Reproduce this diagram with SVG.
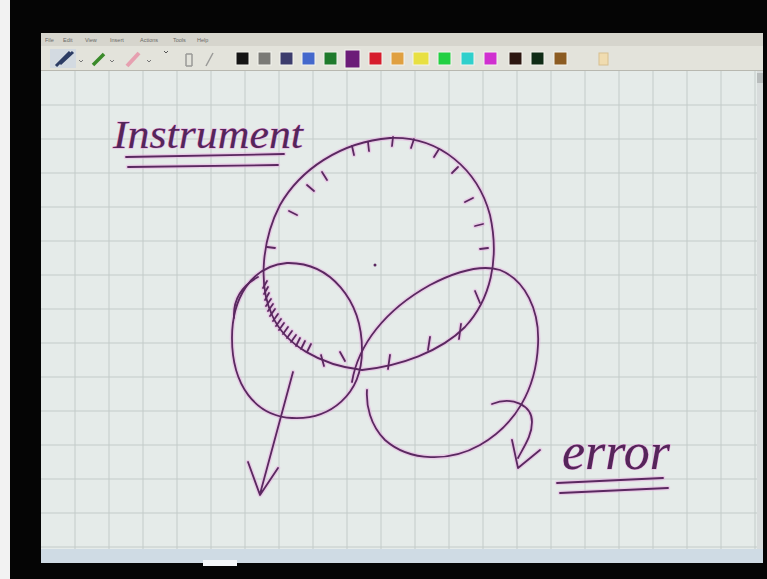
<svg xmlns="http://www.w3.org/2000/svg" xmlns:xlink="http://www.w3.org/1999/xlink" width="767" height="579" viewBox="0 0 767 579">
<style>
.menu{font-family:"Liberation Sans",Arial,sans-serif;font-size:5.5px;fill:#6a6a66}
.grid line{stroke:#c3cbc9;stroke-width:1}
.sw{stroke:#f4f4ee;stroke-width:1}
.hand{font-family:"Liberation Serif","Times New Roman",serif;font-style:italic;fill:#55255a;stroke:#eaa8e0;stroke-width:1;paint-order:stroke}
</style>
<defs>
<g id="strokes" fill="none" stroke-linecap="round" stroke-linejoin="round">
<path d="M362 370 C320 365 285 345 272 315 C258 285 262 240 280 205 C300 170 340 142 390 138 C440 136 478 170 490 215 C500 260 490 300 465 327 C440 352 400 366 362 370"/>
<path d="M352 146 L354 155 M368 142 L369 151 M393 137 L392 146 M414 139 L411 148 M439 149 L434 157 M458 167 L452 173 M473 198 L465 202 M483 224 L475 226 M488 248 L480 249 M322 172 L327 180 M307 185 L314 191 M289 211 L297 215 M267 247 L275 248"/>
<path d="M475 291 L480 303 M461 324 L459 339 M430 337 L428 350 M390 355 L388 369 M321 355 L324 366 M340 352 L345 361"/>
<path d="M267 281 L263 288 M268 287 L264 294 M269 293 L265 300 M271 299 L266 306 M273 304 L268 311 M275 309 L270 316 M278 314 L273 321 M281 319 L276 326 M284 323 L279 330 M288 327 L283 334 M292 331 L287 338 M296 335 L291 342 M300 338 L296 346 M305 341 L301 349 M311 344 L307 352"/>
<path d="M287 263 C330 262 362 300 362 350 C362 395 330 420 292 418 C255 416 232 385 232 338 C232 300 250 266 287 263"/>
<path d="M234 318 C233 300 242 286 258 277"/>
<path d="M293 372 L260 494 M248 462 L260 495 L278 468"/>
<path d="M352 382 C358 345 385 310 430 285 C455 272 480 264 500 270 C525 280 540 310 538 345 C536 390 515 425 480 445 C450 462 410 462 385 440 C370 425 366 405 367 390"/>
<path d="M492 404 C512 396 532 405 532 422 C532 435 525 445 518 458 M512 440 L518 468 L540 450"/>
<path d="M126 157 L284 154 M128 167 L278 165"/>
<path d="M557 483 L663 478 M560 493 L668 488"/>
</g>
</defs>
<rect width="767" height="579" fill="#050505"/>
<rect x="0" y="0" width="10" height="579" fill="#f2f2f2"/>
<g id="menubar">
<rect x="41" y="33" width="722" height="13" fill="#d6d5cd"/>
<text class="menu" x="45" y="42">File</text>
<text class="menu" x="63" y="42">Edit</text>
<text class="menu" x="85" y="42">View</text>
<text class="menu" x="110" y="42">Insert</text>
<text class="menu" x="140" y="42">Actions</text>
<text class="menu" x="173" y="42">Tools</text>
<text class="menu" x="197" y="42">Help</text>
</g>
<g id="toolbar">
<rect x="41" y="46" width="722" height="25" fill="#e3e3db"/>
<line x1="41" y1="70.5" x2="763" y2="70.5" stroke="#b8b8b0"/>
<rect x="50" y="49" width="26" height="19" fill="#c8d4e4" opacity=".6"/>
<path d="M56 66 L70 52 M60 64 L73 52" stroke="#2c3c64" stroke-width="3" fill="none"/>
<path d="M79 60 l2 2 l2 -2" stroke="#777" fill="none"/>
<path d="M93 65 L104 54" stroke="#3a8a2a" stroke-width="3.5" fill="none"/>
<path d="M110 60 l2 2 l2 -2" stroke="#777" fill="none"/>
<path d="M127 66 L139 53" stroke="#e6a0b0" stroke-width="4" fill="none"/>
<path d="M147 60 l2 2 l2 -2" stroke="#777" fill="none"/>
<path d="M164 51 l2 2 l2 -2" stroke="#555" fill="none"/>
<path d="M186 54 L186 66 M192 54 L192 66 M186 54 L192 54 M186 66 L192 66" stroke="#9a9a98" stroke-width="1.5" fill="none"/>
<path d="M206 66 L213 53" stroke="#9a9a98" stroke-width="1.5"/>
<rect class="sw" x="236" y="52" width="13" height="13" fill="#151515"/>
<rect class="sw" x="258" y="52" width="13" height="13" fill="#7a7a76"/>
<rect class="sw" x="280" y="52" width="13" height="13" fill="#3c3c6c"/>
<rect class="sw" x="302" y="52" width="13" height="13" fill="#4468cc"/>
<rect class="sw" x="324" y="52" width="13" height="13" fill="#1f7a2c"/>
<rect class="sw" x="345" y="50" width="15" height="18" fill="#6c1c78"/>
<rect class="sw" x="369" y="52" width="13" height="13" fill="#d61c2c"/>
<rect class="sw" x="391" y="52" width="13" height="13" fill="#e0a040"/>
<rect class="sw" x="413" y="52" width="16" height="13" fill="#e8e042"/>
<rect class="sw" x="438" y="52" width="13" height="13" fill="#22d042"/>
<rect class="sw" x="461" y="52" width="13" height="13" fill="#30d0cc"/>
<rect class="sw" x="484" y="52" width="13" height="13" fill="#d030d0"/>
<rect class="sw" x="509" y="52" width="13" height="13" fill="#2c1610"/>
<rect class="sw" x="531" y="52" width="13" height="13" fill="#102c16"/>
<rect class="sw" x="554" y="52" width="13" height="13" fill="#8c5c22"/>
<rect x="599" y="53" width="9" height="12" fill="#f0dcb0" stroke="#d8c090"/>
</g>
<g id="canvas">
<rect x="41" y="71" width="716" height="478" fill="#e5ebe9"/>
<g class="grid">
<line x1="75" y1="71" x2="75" y2="549"/><line x1="109" y1="71" x2="109" y2="549"/><line x1="143" y1="71" x2="143" y2="549"/><line x1="177" y1="71" x2="177" y2="549"/><line x1="211" y1="71" x2="211" y2="549"/><line x1="245" y1="71" x2="245" y2="549"/><line x1="279" y1="71" x2="279" y2="549"/><line x1="313" y1="71" x2="313" y2="549"/><line x1="347" y1="71" x2="347" y2="549"/><line x1="381" y1="71" x2="381" y2="549"/><line x1="415" y1="71" x2="415" y2="549"/><line x1="449" y1="71" x2="449" y2="549"/><line x1="483" y1="71" x2="483" y2="549"/><line x1="517" y1="71" x2="517" y2="549"/><line x1="551" y1="71" x2="551" y2="549"/><line x1="585" y1="71" x2="585" y2="549"/><line x1="619" y1="71" x2="619" y2="549"/><line x1="653" y1="71" x2="653" y2="549"/><line x1="687" y1="71" x2="687" y2="549"/><line x1="721" y1="71" x2="721" y2="549"/><line x1="755" y1="71" x2="755" y2="549"/>
<line x1="41" y1="105" x2="757" y2="105"/><line x1="41" y1="139" x2="757" y2="139"/><line x1="41" y1="173" x2="757" y2="173"/><line x1="41" y1="207" x2="757" y2="207"/><line x1="41" y1="241" x2="757" y2="241"/><line x1="41" y1="275" x2="757" y2="275"/><line x1="41" y1="309" x2="757" y2="309"/><line x1="41" y1="343" x2="757" y2="343"/><line x1="41" y1="377" x2="757" y2="377"/><line x1="41" y1="411" x2="757" y2="411"/><line x1="41" y1="445" x2="757" y2="445"/><line x1="41" y1="479" x2="757" y2="479"/><line x1="41" y1="513" x2="757" y2="513"/><line x1="41" y1="547" x2="757" y2="547"/>
</g>
<rect x="757" y="71" width="6" height="478" fill="#d8dcdc"/>
<rect x="757" y="73" width="6" height="10" fill="#b8bcbc"/>
<rect x="41" y="549" width="722" height="14" fill="#cfdbe4"/>
<rect x="203" y="560" width="34" height="6" fill="#f4f6f8"/>
</g>
<g id="drawing">
<use xlink:href="#strokes" stroke="#eaa6e2" stroke-width="4.5" opacity=".45"/>
<use xlink:href="#strokes" stroke="#5a2860" stroke-width="1.8"/>
<circle cx="375" cy="265" r="1.5" fill="#5a2860"/>
</g>
<g id="label-instrument">
<text class="hand" x="113" y="148" font-size="40" textLength="190" lengthAdjust="spacingAndGlyphs">Instrument</text>
</g>
<g id="label-error">
<text class="hand" x="562" y="469" font-size="52" textLength="108" lengthAdjust="spacingAndGlyphs">error</text>
</g>
</svg>
